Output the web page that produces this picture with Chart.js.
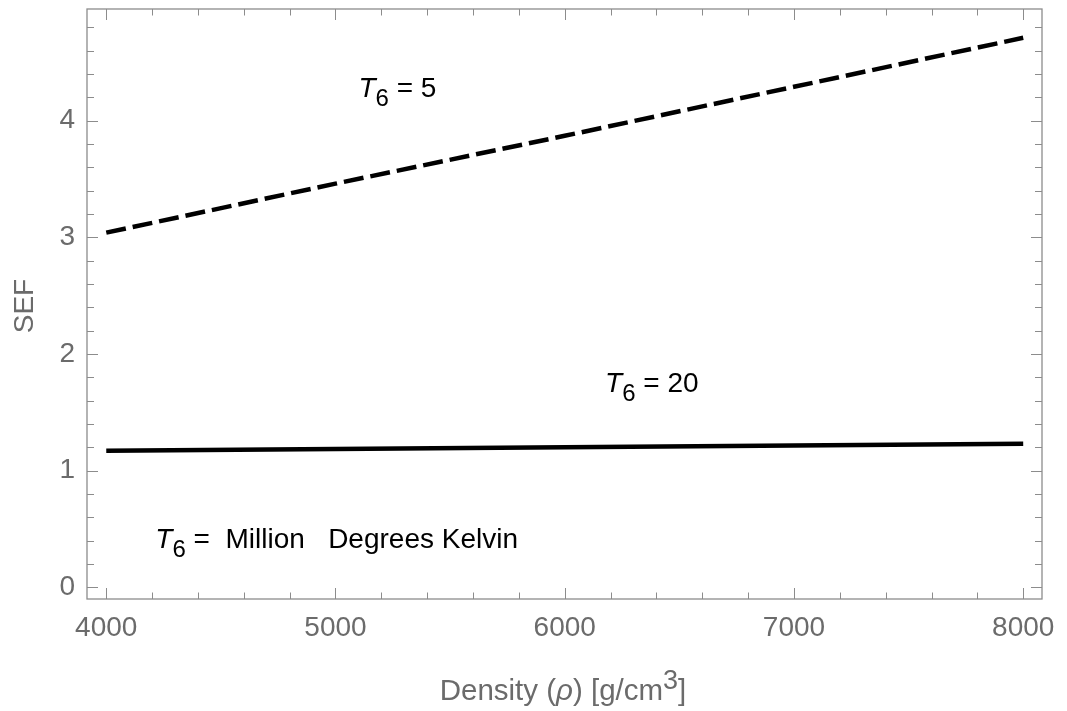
<!DOCTYPE html>
<html>
<head>
<meta charset="utf-8">
<script src="https://cdn.jsdelivr.net/npm/chart.js@4.4.0/dist/chart.umd.min.js"></script>
<style>
  html, body { margin: 0; padding: 0; background: #fff; }
  #wrap { width: 1067px; height: 711px; }
</style>
</head>
<body>
<div id="wrap"><canvas id="sefChart"></canvas></div>
<script>
// Data
const density = [4000, 5000, 6000, 7000, 8000];
const sefT5 = [3.04, 3.46, 3.87, 4.29, 4.71];
const sefT20 = [1.17, 1.185, 1.2, 1.215, 1.23];
const xTicks = [4000, 5000, 6000, 7000, 8000];
const yTicks = [0, 1, 2, 3, 4];

// Text labels inside the plot (data coords: x, baseline y)
const notes = [
  { x: 5100, y: 4.2, rest: " = 5" },
  { x: 6176, y: 1.675, rest: " = 20" },
  { x: 4214, y: 0.338, rest: " =  Million   Degrees Kelvin" }
];

const axisGrey = "#8c8c8c";
const labelGrey = "#6b6b6b";
const fontFam = "'Liberation Sans', Arial, sans-serif";

// frame, inward ticks, annotations and axis titles
const framePlugin = {
  id: "frame",
  afterDraw(chart) {
    const c = chart.ctx;
    const a = chart.chartArea;
    const xs = chart.scales.x, ys = chart.scales.y;
    c.save();
    c.strokeStyle = axisGrey;
    c.lineWidth = 1.3;
    c.strokeRect(a.left, a.top, a.right - a.left, a.bottom - a.top);

    c.lineWidth = 1;
    c.beginPath();
    for (let v = 4000; v <= 8000; v += 200) {
      const px = Math.round(xs.getPixelForValue(v)) + 0.5;
      const len = v % 1000 === 0 ? 11 : 6.5;
      c.moveTo(px, a.bottom); c.lineTo(px, a.bottom - len);
      c.moveTo(px, a.top); c.lineTo(px, a.top + len);
    }
    for (let i = 0; i <= 24; i++) {
      const v = i * 0.2;
      const py = Math.round(ys.getPixelForValue(v)) + 0.5;
      const len = i % 5 === 0 ? 11 : 7;
      c.moveTo(a.left, py); c.lineTo(a.left + len, py);
      c.moveTo(a.right, py); c.lineTo(a.right - len, py);
    }
    c.stroke();

    // T6 labels
    c.fillStyle = "#000";
    c.textBaseline = "alphabetic";
    c.textAlign = "left";
    notes.forEach(n => {
      let px = xs.getPixelForValue(n.x);
      const py = ys.getPixelForValue(n.y);
      c.font = "italic 28px " + fontFam;
      c.fillText("T", px, py);
      px += c.measureText("T").width;
      c.font = "24px " + fontFam;
      c.fillText("6", px, py + 9);
      px += c.measureText("6").width;
      c.font = "28px " + fontFam;
      c.fillText(n.rest, px, py);
    });

    // x axis title
    c.fillStyle = labelGrey;
    const parts = [
      { t: "Density (", f: "29.5px " + fontFam, dy: 0 },
      { t: "\u03C1", f: "italic 29.5px " + fontFam, dy: 0 },
      { t: ") [g/cm", f: "29.5px " + fontFam, dy: 0 },
      { t: "3", f: "27px " + fontFam, dy: -11 },
      { t: "]", f: "29.5px " + fontFam, dy: 0 }
    ];
    let total = 0;
    parts.forEach(p => { c.font = p.f; p.w = c.measureText(p.t).width; total += p.w; });
    let tx = 563 - total / 2;
    const ty = a.bottom + 101;
    parts.forEach(p => {
      c.font = p.f;
      c.fillText(p.t, tx, ty + p.dy);
      tx += p.w;
    });

    // y axis title
    c.translate(33, (a.top + a.bottom) / 2 + 2);
    c.rotate(-Math.PI / 2);
    c.textAlign = "center";
    c.font = "28px " + fontFam;
    c.fillText("SEF", 0, 0);
    c.restore();
  }
};

const ctx = document.getElementById("sefChart").getContext("2d");
const sefChart = new Chart(ctx, {
  type: "line",
  data: {
    datasets: [
      {
        label: "T6 = 5",
        data: density.map((d, i) => ({ x: d, y: sefT5[i] })),
        borderColor: "#000",
        borderWidth: 4.5,
        borderDash: [20, 7],
        pointRadius: 0,
        fill: false
      },
      {
        label: "T6 = 20",
        data: density.map((d, i) => ({ x: d, y: sefT20[i] })),
        borderColor: "#000",
        borderWidth: 4.5,
        pointRadius: 0,
        fill: false
      }
    ]
  },
  options: {
    responsive: true,
    maintainAspectRatio: false,
    animation: false,
    layout: { padding: { left: 0, right: 25, top: 9, bottom: 0 } },
    plugins: {
      legend: { display: false },
      tooltip: { enabled: false }
    },
    scales: {
      x: {
        type: "linear",
        min: 3916,
        max: 8082,
        afterBuildTicks: s => { s.ticks = xTicks.map(v => ({ value: v })); },
        afterFit: s => {
          s.height = 112;
          s.paddingLeft = 0; s.paddingRight = 0;
        },
        grid: { display: false, drawTicks: false },
        border: { display: false },
        ticks: {
          color: labelGrey,
          font: { family: fontFam, size: 28 },
          padding: 12,
          maxRotation: 0,
          callback: v => String(v)
        }
      },
      y: {
        type: "linear",
        min: -0.1,
        max: 4.957,
        afterBuildTicks: s => { s.ticks = yTicks.map(v => ({ value: v })); },
        afterFit: s => {
          s.width = 87;
          s.paddingTop = 0; s.paddingBottom = 0;
        },
        grid: { display: false, drawTicks: false },
        border: { display: false },
        ticks: {
          color: labelGrey,
          font: { family: fontFam, size: 28 },
          padding: 12,
          callback: v => String(v)
        }
      }
    }
  },
  plugins: [framePlugin]
});
</script>
</body>
</html>
